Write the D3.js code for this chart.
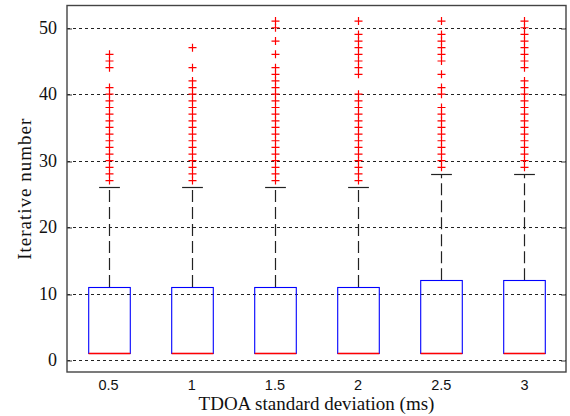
<!DOCTYPE html>
<html>
<head>
<meta charset="utf-8">
<script src="https://cdn.jsdelivr.net/npm/d3@7"></script>
<style>
  body { margin: 0; background: #fff; }
  svg { display: block; }
</style>
</head>
<body>
<svg width="570" height="416"></svg>
<script>
const categories = ['0.5', '1', '1.5', '2', '2.5', '3'];
const q1 = [1, 1, 1, 1, 1, 1];
const medians = [1, 1, 1, 1, 1, 1];
const q3 = [11, 11, 11, 11, 12, 12];
const whiskerLow = [1, 1, 1, 1, 1, 1];
const whiskerHigh = [26, 26, 26, 26, 28, 28];
const outliers = [
  [27, 28, 29, 30, 31, 32, 33, 34, 35, 36, 37, 38, 39, 40, 41, 44, 45, 46],
  [27, 28, 29, 30, 31, 32, 33, 34, 35, 36, 37, 38, 39, 40, 41, 42, 44, 47],
  [27, 28, 29, 30, 31, 32, 33, 34, 35, 36, 37, 38, 39, 40, 41, 42, 43, 44, 46, 48, 50, 51],
  [27, 28, 29, 30, 31, 32, 33, 34, 35, 36, 37, 38, 39, 40, 43, 44, 45, 46, 47, 48, 49, 51],
  [29, 30, 31, 32, 33, 34, 35, 36, 37, 38, 40, 41, 43, 45, 46, 47, 48, 49, 51],
  [29, 30, 31, 32, 33, 34, 35, 36, 37, 38, 39, 40, 41, 42, 44, 45, 46, 47, 48, 49, 50, 51]
];
const yTicks = [0, 10, 20, 30, 40, 50];

const plot = {left: 67, right: 566, top: 5.5, bottom: 372};
const serif = '"Liberation Serif", "Times New Roman", serif';

const svg = d3.select('svg');

const x = d3.scaleBand().domain(categories).range([plot.left, plot.right]);
const y = d3.scaleLinear().domain([-1.8, 53.35]).range([plot.bottom, plot.top]);

const boxes = categories.map((c, i) => ({
  cat: c, q1: q1[i], med: medians[i], q3: q3[i],
  lo: whiskerLow[i], hi: whiskerHigh[i], out: outliers[i]
}));

const snap = v => Math.round(v) + 0.5;

// grid lines
svg.append('g')
  .selectAll('line')
  .data(yTicks)
  .enter()
  .append('line')
  .attr('x1', plot.left)
  .attr('x2', plot.right)
  .attr('y1', d => snap(y(d)))
  .attr('y2', d => snap(y(d)))
  .attr('stroke', '#222')
  .attr('stroke-dasharray', '3,3');

// left axis, ticks inside
const leftAxis = svg.append('g')
  .attr('transform', `translate(${plot.left},0)`)
  .call(d3.axisLeft(y).tickValues(yTicks).tickSize(-5).tickPadding(10));
leftAxis.select('.domain').remove();
leftAxis.selectAll('line').attr('stroke', '#333')
  .attr('transform', d => `translate(0,${snap(y(d)) - y(d)})`);
leftAxis.selectAll('text')
  .attr('font-family', serif)
  .attr('font-size', 18)
  .attr('fill', '#111');

const rightAxis = svg.append('g')
  .attr('transform', `translate(${plot.right},0)`)
  .call(d3.axisRight(y).tickValues(yTicks).tickSize(-5).tickFormat(''));
rightAxis.select('.domain').remove();
rightAxis.selectAll('line').attr('stroke', '#333')
  .attr('transform', d => `translate(0,${snap(y(d)) - y(d)})`);

// bottom axis labels
const bottomAxis = svg.append('g')
  .attr('transform', `translate(0,${plot.bottom})`)
  .call(d3.axisBottom(x).tickSize(0).tickPadding(8));
bottomAxis.select('.domain').remove();
bottomAxis.selectAll('text')
  .attr('font-family', '"Liberation Sans", Arial, sans-serif')
  .attr('font-size', 14.5)
  .attr('fill', '#111');

// frame
svg.append('rect')
  .attr('x', plot.left)
  .attr('y', plot.top)
  .attr('width', plot.right - plot.left)
  .attr('height', plot.bottom - plot.top)
  .attr('fill', 'none')
  .attr('stroke', '#444')
  .attr('stroke-width', 1.4);

const bw = x.bandwidth();
const cx = d => snap(x(d.cat) + bw / 2);

const g = svg.append('g');

// whiskers
g.selectAll('.whisker')
  .data(boxes)
  .enter()
  .append('line')
  .attr('class', 'whisker')
  .attr('x1', cx)
  .attr('x2', cx)
  .attr('y1', d => y(d.q3))
  .attr('y2', d => y(d.hi))
  .attr('stroke', '#222')
  .attr('stroke-width', 1.2)
  .attr('stroke-dasharray', '12,5');

g.selectAll('.cap')
  .data(boxes)
  .enter()
  .append('line')
  .attr('class', 'cap')
  .attr('x1', d => cx(d) - bw * 0.125)
  .attr('x2', d => cx(d) + bw * 0.125)
  .attr('y1', d => snap(y(d.hi)))
  .attr('y2', d => snap(y(d.hi)))
  .attr('stroke', '#222')
  .attr('stroke-width', 1.2);

// boxes
g.selectAll('.box')
  .data(boxes)
  .enter()
  .append('rect')
  .attr('class', 'box')
  .attr('x', d => cx(d) - bw * 0.25)
  .attr('width', bw * 0.5)
  .attr('y', d => snap(y(d.q3)))
  .attr('height', d => Math.round(y(d.q1)) - Math.round(y(d.q3)))
  .attr('fill', 'none')
  .attr('stroke', '#0000ff')
  .attr('stroke-width', 1.1);

g.selectAll('.median')
  .data(boxes)
  .enter()
  .append('line')
  .attr('class', 'median')
  .attr('x1', d => cx(d) - bw * 0.25)
  .attr('x2', d => cx(d) + bw * 0.25)
  .attr('y1', d => snap(y(d.med)))
  .attr('y2', d => snap(y(d.med)))
  .attr('stroke', '#ff0000')
  .attr('stroke-width', 1.3);

// outliers as "+" markers
const outData = boxes.flatMap(d => d.out.map(v => ({cat: d.cat, v: v})));
const ms = 4;
g.selectAll('.out')
  .data(outData)
  .enter()
  .append('path')
  .attr('class', 'out')
  .attr('d', d => {
    const px = cx(d), py = y(d.v);
    return `M${px - ms},${py}H${px + ms}M${px},${py - ms}V${py + ms}`;
  })
  .attr('stroke', '#ff0000')
  .attr('stroke-width', 1.2)
  .attr('fill', 'none');

// axis titles
svg.append('text')
  .attr('x', (plot.left + plot.right) / 2)
  .attr('y', 410)
  .attr('text-anchor', 'middle')
  .attr('font-family', serif)
  .attr('font-size', 19)
  .attr('fill', '#111')
  .text('TDOA standard deviation (ms)');

svg.append('text')
  .attr('transform', `translate(31,${(plot.top + plot.bottom) / 2}) rotate(-90)`)
  .attr('text-anchor', 'middle')
  .attr('font-family', serif)
  .attr('font-size', 19)
  .attr('letter-spacing', 1)
  .attr('fill', '#111')
  .text('Iterative number');
</script>
</body>
</html>
